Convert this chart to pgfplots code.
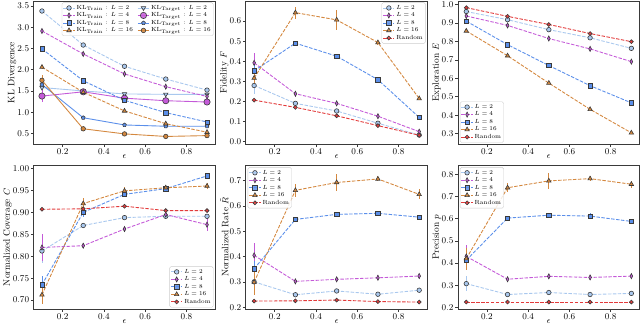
\documentclass[border=0pt]{standalone}
\usepackage{pgfplots}
\pgfplotsset{compat=1.18}
\usepgfplotslibrary{groupplots}

\definecolor{cA}{HTML}{A9C8EE}
\definecolor{cB}{HTML}{C45AD8}
\definecolor{cC}{HTML}{5B8FEA}
\definecolor{cD}{HTML}{D4883F}
\definecolor{cR}{HTML}{E23B3B}
\definecolor{edge}{HTML}{3A3A3A}

\pgfplotsset{
  base/.style={line width=0.9pt, mark size=2.3pt,
    error bars/y dir=both, error bars/y explicit, error bars/error mark=none},
  dsh/.style={dash pattern=on 3.5pt off 1.5pt},
  sA/.style={base, cA, dsh, mark=*, mark options={solid, fill=cA, draw=edge, line width=0.6pt},
    error bars/error bar style={solid, line width=0.9pt, cA}},
  sB/.style={base, cB, dsh, mark=diamond*, mark size=2.6pt, mark options={solid, xscale=0.7, fill=cB, draw=edge, line width=0.6pt},
    error bars/error bar style={solid, line width=0.9pt, cB}},
  sC/.style={base, cC, dsh, mark=square*, mark size=2.2pt, mark options={solid, fill=cC, draw=edge, line width=0.6pt},
    error bars/error bar style={solid, line width=0.9pt, cC}},
  sD/.style={base, cD, dsh, mark=triangle*, mark size=2.6pt, mark options={solid, fill=cD, draw=edge, line width=0.6pt},
    error bars/error bar style={solid, line width=0.9pt, cD}},
  sR/.style={base, cR, dsh, mark=*, mark size=2pt, mark options={solid, fill=cR, draw=edge, line width=0.6pt},
    error bars/error bar style={solid, line width=0.9pt, cR}},
  tA/.style={base, cA, solid, mark=triangle*, mark size=2.6pt, mark options={rotate=180, fill=cA, draw=edge, line width=0.6pt},
    error bars/error bar style={line width=0.9pt, cA}},
  tB/.style={base, cB, solid, mark=*, mark size=3.2pt, mark options={fill=cB, draw=edge, line width=0.6pt},
    error bars/error bar style={line width=0.9pt, cB}},
  tC/.style={base, cC, solid, mark=pentagon*, mark size=2pt, mark options={fill=cC, draw=edge, line width=0.6pt},
    error bars/error bar style={line width=0.9pt, cC}},
  tD/.style={base, cD, solid, mark=*, mark size=2.3pt, mark options={fill=cD, draw=edge, line width=0.6pt},
    error bars/error bar style={line width=0.9pt, cD}},
  lgd/.style={legend style={font=\fontsize{6}{6.5}\selectfont, draw=black!20, rounded corners=1.5pt,
    fill=white, fill opacity=0.85, text opacity=1, inner sep=1pt, row sep=-1.2pt,
    nodes={inner sep=1.6pt}}, legend cell align=left,
    legend image code/.code={\draw[mark repeat=2, mark phase=2]
      plot coordinates {(0cm,0cm) (0.2cm,0cm) (0.4cm,0cm)};}},
}

\begin{document}
\begin{tikzpicture}
\begin{groupplot}[
  group style={group size=3 by 2, horizontal sep=31pt, vertical sep=22pt},
  width=184pt, height=145pt, scale only axis,
  xmin=0.06, xmax=0.94, xtick={0.2,0.4,0.6,0.8},
  xlabel={$\epsilon$},
  axis line style={edge, line width=0.8pt},
  tick align=outside, tick pos=left,
  major tick length=3pt, tick style={edge, line width=0.6pt},
  every tick label/.append style={font=\fontsize{9.5}{11}\selectfont},
  label style={font=\fontsize{9.5}{11}\selectfont},
  xticklabel style={inner sep=1.5pt},
  xlabel style={yshift=5pt},
  ylabel style={yshift=-4pt},
  yticklabel style={inner sep=1.5pt, /pgf/number format/.cd, fixed, fixed zerofill, precision=1},
  xticklabel style={/pgf/number format/.cd, fixed, fixed zerofill, precision=1},
  scaled ticks=false, lgd,
]
% ---- KL divergence
\nextgroupplot[ymin=0.25, ymax=3.615, ytick={0.5,1,...,3.5}, ylabel={KL Divergence},
  legend columns=2, legend pos=north east, legend style={at={(0.99,0.99)}, /tikz/every even column/.append style={column sep=3pt}}]
\addplot[sA] coordinates {(0.1,3.38)+-(0,0.03) (0.3,2.58)+-(0,0.04) (0.5,2.08)+-(0,0.03) (0.7,1.78)+-(0,0.03) (0.9,1.52)+-(0,0.03)};
\addlegendentry{KL$_\mathrm{Train}$ : $L=2$}
\addplot[tA] coordinates {(0.1,1.58)+-(0,0.04) (0.3,1.50)+-(0,0.02) (0.5,1.43)+-(0,0.02) (0.7,1.42)+-(0,0.02) (0.9,1.42)+-(0,0.02)};
\addlegendentry{KL$_\mathrm{Target}$ : $L=2$}
\addplot[sB] coordinates {(0.1,2.91)+-(0,0.05) (0.3,2.37)+-(0,0.05) (0.5,1.90)+-(0,0.05) (0.7,1.60)+-(0,0.05) (0.9,1.37)+-(0,0.04)};
\addlegendentry{KL$_\mathrm{Train}$ : $L=4$}
\addplot[tB] coordinates {(0.1,1.38)+-(0,0.15) (0.3,1.48)+-(0,0.04) (0.5,1.33)+-(0,0.03) (0.7,1.27)+-(0,0.03) (0.9,1.24)+-(0,0.03)};
\addlegendentry{KL$_\mathrm{Target}$ : $L=4$}
\addplot[sC] coordinates {(0.1,2.49)+-(0,0.04) (0.3,1.74)+-(0,0.04) (0.5,1.28)+-(0,0.03) (0.7,0.99)+-(0,0.03) (0.9,0.77)+-(0,0.03)};
\addlegendentry{KL$_\mathrm{Train}$ : $L=8$}
\addplot[tC] coordinates {(0.1,1.65)+-(0,0.05) (0.3,0.87)+-(0,0.03) (0.5,0.70)+-(0,0.02) (0.7,0.67)+-(0,0.02) (0.9,0.67)+-(0,0.02)};
\addlegendentry{KL$_\mathrm{Target}$ : $L=8$}
\addplot[sD] coordinates {(0.1,2.06)+-(0,0.04) (0.3,1.47)+-(0,0.03) (0.5,1.03)+-(0,0.03) (0.7,0.73)+-(0,0.03) (0.9,0.53)+-(0,0.03)};
\addlegendentry{KL$_\mathrm{Train}$ : $L=16$}
\addplot[tD] coordinates {(0.1,1.75)+-(0,0.13) (0.3,0.61)+-(0,0.03) (0.5,0.49)+-(0,0.02) (0.7,0.43)+-(0,0.02) (0.9,0.45)+-(0,0.02)};
\addlegendentry{KL$_\mathrm{Target}$ : $L=16$}
% ---- Fidelity
\nextgroupplot[ymin=-0.013, ymax=0.70, ytick={0,0.1,...,0.6}, ylabel={Fidelity $F$},
  legend pos=north east, legend style={at={(0.99,0.99)}}]
\addplot[sA] coordinates {(0.1,0.279)+-(0,0.04) (0.3,0.190)+-(0,0.01) (0.5,0.152)+-(0,0.01) (0.7,0.091)+-(0,0.01) (0.9,0.032)+-(0,0.008)};
\addlegendentry{$L=2$}
\addplot[sB] coordinates {(0.1,0.392)+-(0,0.05) (0.3,0.238)+-(0,0.015) (0.5,0.190)+-(0,0.012) (0.7,0.126)+-(0,0.01) (0.9,0.049)+-(0,0.01)};
\addlegendentry{$L=4$}
\addplot[sC] coordinates {(0.1,0.352)+-(0,0.03) (0.3,0.490)+-(0,0.01) (0.5,0.425)+-(0,0.01) (0.7,0.308)+-(0,0.01) (0.9,0.120)+-(0,0.005)};
\addlegendentry{$L=8$}
\addplot[sD] coordinates {(0.1,0.316)+-(0,0.03) (0.3,0.642)+-(0,0.03) (0.5,0.606)+-(0,0.05) (0.7,0.493)+-(0,0.01) (0.9,0.214)+-(0,0.008)};
\addlegendentry{$L=16$}
\addplot[sR] coordinates {(0.1,0.206)+-(0,0.005) (0.3,0.170)+-(0,0.005) (0.5,0.128)+-(0,0.005) (0.7,0.079)+-(0,0.005) (0.9,0.031)+-(0,0.005)};
\addlegendentry{Random}
% ---- Exploration
\nextgroupplot[ymin=0.244, ymax=1.018, ytick={0.3,0.4,...,1.0}, ylabel={Exploration $E$},
  legend pos=south west, legend style={at={(0.01,0.01)}}]
\addplot[sA] coordinates {(0.1,0.961)+-(0,0.005) (0.3,0.917)+-(0,0.005) (0.5,0.863)+-(0,0.005) (0.7,0.819)+-(0,0.005) (0.9,0.762)+-(0,0.005)};
\addlegendentry{$L=2$}
\addplot[sB] coordinates {(0.1,0.937)+-(0,0.01) (0.3,0.886)+-(0,0.012) (0.5,0.815)+-(0,0.012) (0.7,0.759)+-(0,0.012) (0.9,0.690)+-(0,0.012)};
\addlegendentry{$L=4$}
\addplot[sC] coordinates {(0.1,0.909)+-(0,0.005) (0.3,0.782)+-(0,0.005) (0.5,0.669)+-(0,0.005) (0.7,0.560)+-(0,0.005) (0.9,0.467)+-(0,0.005)};
\addlegendentry{$L=8$}
\addplot[sD] coordinates {(0.1,0.856)+-(0,0.005) (0.3,0.722)+-(0,0.005) (0.5,0.574)+-(0,0.005) (0.7,0.432)+-(0,0.005) (0.9,0.305)+-(0,0.005)};
\addlegendentry{$L=16$}
\addplot[sR] coordinates {(0.1,0.982)+-(0,0.003) (0.3,0.935)+-(0,0.003) (0.5,0.891)+-(0,0.003) (0.7,0.842)+-(0,0.003) (0.9,0.798)+-(0,0.003)};
\addlegendentry{Random}
% ---- Coverage
\nextgroupplot[ymin=0.68, ymax=1.006, ytick={0.70,0.75,...,1.0}, ylabel={Normalized Coverage $C$},
  yticklabel style={/pgf/number format/precision=2},
  legend pos=south east, legend style={at={(0.99,0.01)}}]
\addplot[sA] coordinates {(0.1,0.812)+-(0,0.027) (0.3,0.870)+-(0,0.004) (0.5,0.888)+-(0,0.004) (0.7,0.891)+-(0,0.005) (0.9,0.891)+-(0,0.004)};
\addlegendentry{$L=2$}
\addplot[sB] coordinates {(0.1,0.820)+-(0,0.03) (0.3,0.824)+-(0,0.006) (0.5,0.862)+-(0,0.006) (0.7,0.895)+-(0,0.006) (0.9,0.872)+-(0,0.014)};
\addlegendentry{$L=4$}
\addplot[sC] coordinates {(0.1,0.735)+-(0,0.02) (0.3,0.900)+-(0,0.01) (0.5,0.941)+-(0,0.006) (0.7,0.954)+-(0,0.004) (0.9,0.983)+-(0,0.004)};
\addlegendentry{$L=8$}
\addplot[sD] coordinates {(0.1,0.712)+-(0,0.02) (0.3,0.920)+-(0,0.012) (0.5,0.949)+-(0,0.008) (0.7,0.956)+-(0,0.005) (0.9,0.960)+-(0,0.006)};
\addlegendentry{$L=16$}
\addplot[sR] coordinates {(0.1,0.907)+-(0,0.003) (0.3,0.908)+-(0,0.003) (0.5,0.914)+-(0,0.003) (0.7,0.904)+-(0,0.003) (0.9,0.904)+-(0,0.003)};
\addlegendentry{Random}
% ---- Rate
\nextgroupplot[ymin=0.193, ymax=0.759, ytick={0.2,0.3,...,0.7}, ylabel={Normalized Rate $\tilde{R}$},
  legend pos=north west, legend style={at={(0.01,0.99)}}]
\addplot[sA] coordinates {(0.1,0.300)+-(0,0.01) (0.3,0.249)+-(0,0.005) (0.5,0.264)+-(0,0.005) (0.7,0.251)+-(0,0.005) (0.9,0.267)+-(0,0.005)};
\addlegendentry{$L=2$}
\addplot[sB] coordinates {(0.1,0.405)+-(0,0.05) (0.3,0.302)+-(0,0.01) (0.5,0.310)+-(0,0.01) (0.7,0.316)+-(0,0.01) (0.9,0.323)+-(0,0.01)};
\addlegendentry{$L=4$}
\addplot[sC] coordinates {(0.1,0.352)+-(0,0.03) (0.3,0.547)+-(0,0.01) (0.5,0.567)+-(0,0.01) (0.7,0.571)+-(0,0.01) (0.9,0.556)+-(0,0.01)};
\addlegendentry{$L=8$}
\addplot[sD] coordinates {(0.1,0.299)+-(0,0.05) (0.3,0.662)+-(0,0.025) (0.5,0.693)+-(0,0.035) (0.7,0.707)+-(0,0.01) (0.9,0.646)+-(0,0.02)};
\addlegendentry{$L=16$}
\addplot[sR] coordinates {(0.1,0.224)+-(0,0.003) (0.3,0.225)+-(0,0.003) (0.5,0.228)+-(0,0.003) (0.7,0.222)+-(0,0.003) (0.9,0.220)+-(0,0.003)};
\addlegendentry{Random}
% ---- Precision
\nextgroupplot[ymin=0.193, ymax=0.839, ytick={0.2,0.3,...,0.8}, ylabel={Precision $p$},
  legend pos=north west, legend style={at={(0.01,0.99)}}]
\addplot[sA] coordinates {(0.1,0.307)+-(0,0.035) (0.3,0.258)+-(0,0.006) (0.5,0.267)+-(0,0.006) (0.7,0.258)+-(0,0.006) (0.9,0.263)+-(0,0.006)};
\addlegendentry{$L=2$}
\addplot[sB] coordinates {(0.1,0.430)+-(0,0.05) (0.3,0.327)+-(0,0.008) (0.5,0.340)+-(0,0.01) (0.7,0.335)+-(0,0.01) (0.9,0.341)+-(0,0.01)};
\addlegendentry{$L=4$}
\addplot[sC] coordinates {(0.1,0.413)+-(0,0.03) (0.3,0.603)+-(0,0.008) (0.5,0.616)+-(0,0.008) (0.7,0.612)+-(0,0.015) (0.9,0.588)+-(0,0.008)};
\addlegendentry{$L=8$}
\addplot[sD] coordinates {(0.1,0.420)+-(0,0.05) (0.3,0.740)+-(0,0.02) (0.5,0.771)+-(0,0.035) (0.7,0.781)+-(0,0.01) (0.9,0.756)+-(0,0.015)};
\addlegendentry{$L=16$}
\addplot[sR] coordinates {(0.1,0.224)+-(0,0.003) (0.3,0.224)+-(0,0.003) (0.5,0.224)+-(0,0.003) (0.7,0.224)+-(0,0.003) (0.9,0.224)+-(0,0.003)};
\addlegendentry{Random}
\end{groupplot}
\end{tikzpicture}
\end{document}
